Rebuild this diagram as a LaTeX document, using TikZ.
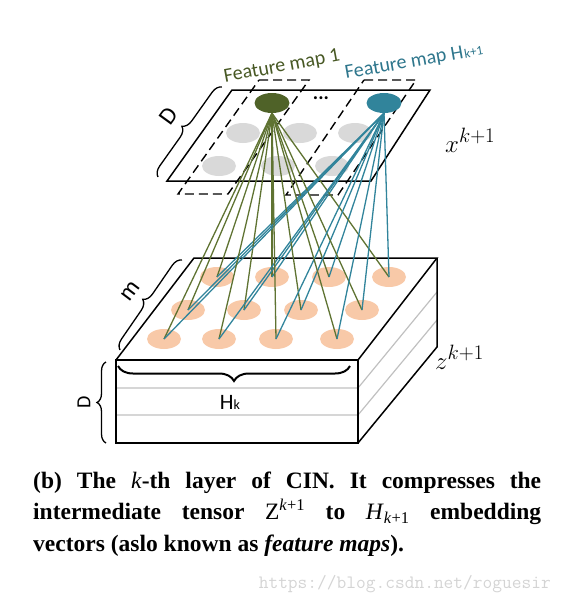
\documentclass[tikz,border=0pt]{standalone}
\usepackage{fontspec}
\setmainfont{Liberation Serif}
\newfontfamily\calfont{Carlito}
\usetikzlibrary{shapes.geometric,decorations.pathreplacing}
\definecolor{fgreen}{RGB}{79,98,40}
\definecolor{fgreenline}{RGB}{95,115,50}
\definecolor{fteal}{RGB}{49,132,155}
\definecolor{ftealtext}{RGB}{46,118,140}
\definecolor{forange}{RGB}{248,201,168}
\definecolor{fgray}{RGB}{217,217,217}
\definecolor{lgray}{RGB}{192,192,192}
\definecolor{wmgray}{RGB}{212,212,212}
\newcommand{\mitk}{\textnormal{\itshape k}}
\pgfdeclarelayer{front}
\pgfsetlayers{main,front}
\begin{document}
\begin{tikzpicture}[x=1pt,y=-1pt,
  dotshape/.style={ellipse,minimum width=34pt,minimum height=20pt,inner sep=0pt},
  odot/.style={dotshape,fill=forange},
  gdot/.style={dotshape,fill=fgray},
  boxline/.style={line width=1.5pt,line join=miter},
  dashline/.style={line width=1.4pt,dash pattern=on 9pt off 5pt},
  sepline/.style={lgray,line width=1.2pt},
  bracedeco/.style={decorate,decoration={brace,amplitude=#1},line width=1.3pt},
  gline/.style={fgreenline,line width=1.3pt},
  tline/.style={fteal,line width=1.3pt},
  sanslabel/.style={font=\calfont\fontsize{20}{20}\selectfont,inner sep=0pt},
  biglabel/.style={font=\calfont\fontsize{24}{24}\selectfont,inner sep=0pt},
]
\useasboundingbox (0,0) rectangle (562,602);

% ---------- lower cube ----------
\coordinate (ftl) at (116,360);
\coordinate (ftr) at (358,360);
\coordinate (fbr) at (358,443);
\coordinate (fbl) at (116,443);
\coordinate (btl) at (194,258);
\coordinate (btr) at (437,258);
\coordinate (bbr) at (437,347);
\draw[sepline] (116,388) -- (358,388) -- (437,292);
\draw[sepline] (116,415) -- (358,415) -- (437,320);
\draw[boxline] (ftl) -- (ftr) -- (fbr) -- (fbl) -- cycle;
\draw[boxline] (ftl) -- (btl) -- (btr) -- (ftr);
\draw[boxline] (btr) -- (bbr) -- (fbr);

% braces of the cube
\draw[bracedeco=10pt] (120,350) -- (182,260);
\node[biglabel,rotate=53] (mlab) at (131,291) {m};
\draw[bracedeco=15pt,line width=2pt] (350,366) -- (118,366);
\node[inner sep=0pt,font=\calfont\fontsize{22}{22}\selectfont,anchor=base] (hk) at (230,409) {H{\fontsize{14}{14}\selectfont k}};
\draw[bracedeco=9pt] (106,443) -- (106,362);
\node[sanslabel,rotate=90] (dlow) at (84,402) {D};

% orange dots
\foreach \n/\x/\y in {1/217/277, 2/272/277, 3/329/277, 4/389/277,
                      5/188/310, 6/244/310, 7/301/310, 8/362/310,
                      9/164/339, 10/219/339, 11/276/339, 12/337/339}
  \node[odot] (o\n) at (\x,\y) {};

\node[inner sep=0pt,anchor=base west,font=\fontsize{28}{28}\selectfont] (zlab) at (435,369) {$z^{k+1}$};

% ---------- upper plane ----------
\draw[boxline] (232,90) -- (430,90) -- (371,181) -- (167,181) -- cycle;
\foreach \n/\x/\y in {1/243/133, 2/300/133, 3/355/133, 4/219/166, 5/278/166, 6/332/166}
  \node[gdot] (gd\n) at (\x,\y) {};
\draw[dashline] (259,80) -- (309,80) -- (228,194) -- (178,194) -- cycle;
\draw[dashline] (364,80) -- (416,80) -- (338,195) -- (286,195) -- cycle;
\node[inner sep=0pt,font=\calfont\bfseries\fontsize{20}{20}\selectfont] (dots) at (321,98) {...};

\draw[bracedeco=10pt] (158,177) -- (222,87);
\node[biglabel,rotate=54] (dtop) at (169,116) {D};

\node[sanslabel,fgreen!90!black,rotate=10.5] (fm1) at (282,67) {Feature map 1};
\node[sanslabel,ftealtext,rotate=10,anchor=base west] (fmh) at (346,79) {Feature map H\kern1pt{\fontsize{13}{13}\selectfont k+1}};
\node[inner sep=0pt,anchor=base west,font=\fontsize{28}{28}\selectfont] (xlab) at (445,152) {$x^{k+1}$};

\begin{pgfonlayer}{front}
\node[dotshape,minimum width=35pt,fill=fgreen] (g) at (272,103) {};
\node[dotshape,minimum width=35pt,fill=fteal] (t) at (384,103) {};
\end{pgfonlayer}

\foreach \n in {1,...,12} {
  \draw[gline] (g.south) -- (o\n.center);
  \draw[tline] (t.south) -- (o\n.center);
}

% ---------- caption ----------
\node[anchor=base west,inner sep=0pt,text width=508pt,align=justify,
      font=\bfseries\fontsize{23.5}{31.5}\selectfont] (cap) at (33,488)
  {(b) The \mitk-th layer of CIN. It compresses the\linebreak{} intermediate tensor \textnormal{Z}\textsuperscript{\mitk\textnormal{+1}} to \textnormal{\itshape H}\textsubscript{\mitk\textnormal{+1}} embedding\linebreak{} vectors (aslo known as \textit{feature maps}).};

\node[anchor=base east,inner sep=0pt,wmgray,font=\ttfamily\fontsize{18.9}{18.9}\selectfont] (wm) at (551,588) {https://blog.csdn.net/roguesir};
\end{tikzpicture}
\end{document}
